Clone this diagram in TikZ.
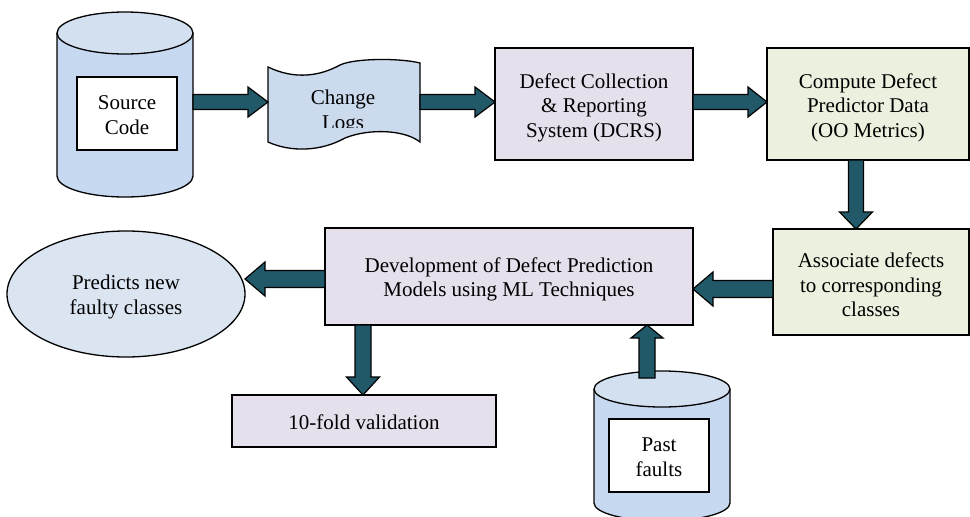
\documentclass[tikz,border=0pt]{standalone}
\usepackage{fontspec}
\setmainfont{Liberation Serif}
\usetikzlibrary{calc,shapes.geometric}
\definecolor{arrowc}{HTML}{215968}
\definecolor{lav}{HTML}{E5E0EC}
\definecolor{grn}{HTML}{EBF1DE}
\definecolor{cylbody}{HTML}{C6D9F1}
\definecolor{cyltop}{HTML}{D3E0F0}
\definecolor{ellc}{HTML}{DBE5F1}
\definecolor{tapec}{HTML}{CCDAEE}
\tikzset{
  txt/.style={font=\fontsize{21}{24.5}\selectfont},
  box/.style={draw=black, line width=1.3pt, inner sep=0pt, outer sep=0pt, align=center, txt},
  ghost/.style={inner sep=0pt, outer sep=0pt},
  blk/.style={draw=black, line width=1.2pt, fill=arrowc, line join=miter},
  lbl/.style={align=center, inner sep=0pt, txt},
  edge/.style={line width=1.3pt},
}
% horizontal block arrow: #1 shaft half, #2 head half, #3 head length, #4 start, #5 tip
\newcommand\hblk[5]{%
  \draw[blk] let \p1=#4, \p2=#5, \n1={2*(\x2>\x1)-1} in
    (\x1,{\y1+#1}) -- ({\x2-\n1*#3},{\y1+#1}) -- ({\x2-\n1*#3},{\y1+#2}) -- (\x2,\y1)
    -- ({\x2-\n1*#3},{\y1-#2}) -- ({\x2-\n1*#3},{\y1-#1}) -- (\x1,{\y1-#1}) -- cycle;}
% vertical block arrow
\newcommand\vblk[5]{%
  \draw[blk] let \p1=#4, \p2=#5, \n1={2*(\y2>\y1)-1} in
    ({\x1+#1},\y1) -- ({\x1+#1},{\y2-\n1*#3}) -- ({\x1+#2},{\y2-\n1*#3}) -- (\x1,\y2)
    -- ({\x1-#2},{\y2-\n1*#3}) -- ({\x1-#1},{\y2-\n1*#3}) -- ({\x1-#1},\y1) -- cycle;}
% cylinder: #1 cx, #2 top centre y, #3 bottom centre y, #4 rx, #5 ry
\newcommand\cylshape[5]{%
  \fill[cylbody] (#1-#4,#2) rectangle (#1+#4,#3);
  \fill[cylbody] (#1,#3) ellipse[x radius=#4pt, y radius=#5pt];
  \draw[edge] (#1-#4,#2) -- (#1-#4,#3) arc[start angle=180, end angle=360, x radius=#4pt, y radius=#5pt] -- (#1+#4,#2);
  \draw[edge, fill=cyltop] (#1,#2) ellipse[x radius=#4pt, y radius=#5pt];}
\begin{document}
\begin{tikzpicture}[x=1pt, y=-1pt]
\useasboundingbox (0,0) rectangle (970,517);
\clip (0,0) rectangle (970,517);

% helper coordinates for connector lines
\coordinate (ya1) at (0,102);
\coordinate (xa4) at (856,0);
\coordinate (ya5) at (0,289);
\coordinate (ya6) at (0,279);
\coordinate (xa7) at (363,0);
\coordinate (pasttop) at (647,378);

% Source code cylinder
\cylshape{125}{33}{176}{68}{21}
\node[ghost, minimum width=136pt, minimum height=185pt] (src) at (125,104.5) {};
\node[box, fill=white, minimum width=100pt, minimum height=73pt] (srcbox) at (127,113.5) {};
\node[lbl] (srcT) at ([yshift=-1.5pt]srcbox.center) {Source\\Code};

% Change logs (punched tape)
\draw[edge, fill=tapec] (268,67) .. controls (295,80) and (320,76) .. (340,65)
  .. controls (355,58) and (400,58) .. (420,63) -- (420,142)
  .. controls (405,130) and (370,128) .. (345,138)
  .. controls (320,152) and (290,152) .. (268,142) -- cycle;
\node[ghost, minimum width=152pt, minimum height=90pt] (clog) at (344,105) {};
\begin{scope}
  \clip (268,60) rectangle (420,127.5);
  \node[lbl] (cltext) at (343,112) {Change\\Logs};
\end{scope}

% boxes
\node[box, fill=lav, minimum width=198pt, minimum height=112pt] (dcrs) at (594,104) {};
\node[lbl] (dcrsT) at ([yshift=-3.5pt]dcrs.center) {Defect Collection\\\& Reporting\\System (DCRS)};
\node[box, fill=grn, minimum width=202pt, minimum height=112pt] (comp) at (868,104) {};
\node[lbl] (compT) at ([yshift=-3.5pt]comp.center) {Compute Defect\\Predictor Data\\(OO Metrics)};
\node[box, fill=grn, minimum width=196pt, minimum height=106pt] (assoc) at (871,282) {};
\node[lbl] (assocT) at ([yshift=-3pt]assoc.center) {Associate defects\\to corresponding\\classes};
\node[box, fill=lav, minimum width=368pt, minimum height=97pt] (dev) at (509,276.5) {};
\node[lbl] (devT) at ([yshift=-3pt]dev.center) {Development of Defect Prediction\\Models using ML Techniques};
\node[box, fill=lav, minimum width=264pt, minimum height=52pt] (val) at (364,421) {};
\node[lbl] (valT) at ([yshift=-1pt]val.center) {10-fold validation};
\node[box, ellipse, fill=ellc, minimum width=238pt, minimum height=126pt] (pred) at (126,294) {};
\node[lbl] (predT) at ([yshift=-3pt]pred.center) {Predicts new\\faulty classes};

% Past faults cylinder
\cylshape{662}{389}{503}{68}{18}
\node[box, fill=white, minimum width=100pt, minimum height=73pt] (past) at (659,455.5) {};
\node[lbl] (pastT) at ([yshift=-1.5pt]past.center) {Past\\faults};

% block arrows
\hblk{7.5pt}{15pt}{20pt}{(src.east |- ya1)}{(clog.west |- ya1)}
\hblk{7.5pt}{15pt}{20pt}{(clog.east |- ya1)}{(dcrs.west |- ya1)}
\hblk{7.5pt}{15pt}{19pt}{(dcrs.east |- ya1)}{(comp.west |- ya1)}
\vblk{7.5pt}{16.5pt}{17pt}{(comp.south -| xa4)}{(assoc.north -| xa4)}
\hblk{8.5pt}{17pt}{20pt}{(assoc.west |- ya5)}{(dev.east |- ya5)}
\hblk{8.5pt}{17pt}{20pt}{(dev.west |- ya6)}{(pred.east |- ya6)}
\vblk{8pt}{16.5pt}{18pt}{(dev.south -| xa7)}{(val.north -| xa7)}
\vblk{8pt}{16pt}{13pt}{(pasttop)}{(dev.south -| pasttop)}
\end{tikzpicture}
\end{document}
